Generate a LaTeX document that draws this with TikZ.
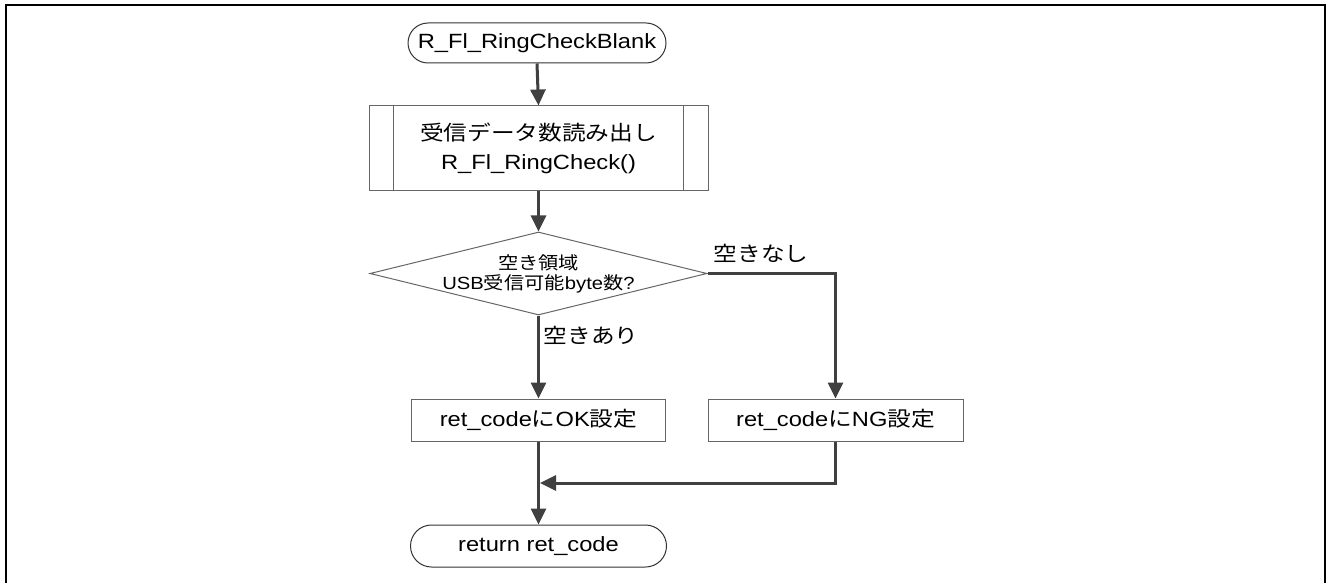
\documentclass[tikz,border=0pt]{standalone}
\usepackage{fontspec}
\setmainfont{Liberation Sans}[FakeStretch=1.15]
\newfontfamily\jp{Noto Sans CJK JP}[FakeStretch=1.15]
\usetikzlibrary{shapes.geometric,shapes.misc,arrows.meta}
\definecolor{boxcol}{gray}{0.4}
\definecolor{arrcol}{gray}{0.25}
\tikzset{
  base/.style={draw=boxcol, line width=1bp, inner sep=0pt, align=center,
    font=\fontsize{20.6bp}{29bp}\selectfont},
  term/.style={base, draw=black!80, rounded rectangle},
  procbox/.style={base, rectangle},
  decision/.style={draw=boxcol, line width=1bp, diamond, inner sep=0pt,
    minimum width=337bp, minimum height=83bp},
  dtext/.style={inner sep=0pt, align=center, font=\fontsize{17.6bp}{20bp}\selectfont},
  lbl/.style={inner sep=0pt, font=\fontsize{20.6bp}{24bp}\selectfont},
  flow/.style={draw=arrcol, line width=3bp,
    -{Triangle[length=16bp,width=15bp]}},
}
\begin{document}
\begin{tikzpicture}[x=1bp,y=-1bp]
\useasboundingbox (0,0) rectangle (1328,583);
\draw[line width=2.5bp] (6,583) -- (6,5) -- (1325,5) -- (1325,583);

\node[term, minimum width=258bp, minimum height=40bp] (s) at (537,43)
  {R\_Fl\_RingCheckBlank};
\node[procbox, minimum width=339bp, minimum height=84bp] (p) at (538.5,148)
  {{\jp 受信データ数読み出し}\\R\_Fl\_RingCheck()};
\draw[boxcol, line width=1bp] ([xshift=25bp]p.north west) -- ([xshift=25bp]p.south west);
\draw[boxcol, line width=1bp] ([xshift=-25bp]p.north east) -- ([xshift=-25bp]p.south east);

\node[decision] (d) at (538.5,273.5) {};
\node[dtext] (dt) at (d) {{\jp 空き領域}\\USB{\jp 受信可能}byte{\jp 数}?};

\node[procbox, minimum width=254bp, minimum height=42bp] (ok) at (538.5,420)
  {ret\_code{\jp に}OK{\jp 設定}};
\node[procbox, minimum width=255bp, minimum height=42bp] (ng) at (835.5,420)
  {ret\_code{\jp に}NG{\jp 設定}};

\node[term, minimum width=256bp, minimum height=42bp] (r) at (538.5,546)
  {return ret\_code};

\node[lbl] (ln) at (761,253) {\jp 空きなし};
\node[lbl] (ly) at (591,335) {\jp 空きあり};

\coordinate (m) at (538.5,483);

\draw[flow] (s.south) -- (p.north);
\draw[flow] (p.south) -- (d.north);
\draw[flow] (d.south) -- (ok.north);
\draw[flow] (d.east) -| (ng.north);
\draw[flow] (ok.south) -- (r.north);
\draw[flow] (ng.south) |- ([xshift=1.5bp]m);
\end{tikzpicture}
\end{document}
